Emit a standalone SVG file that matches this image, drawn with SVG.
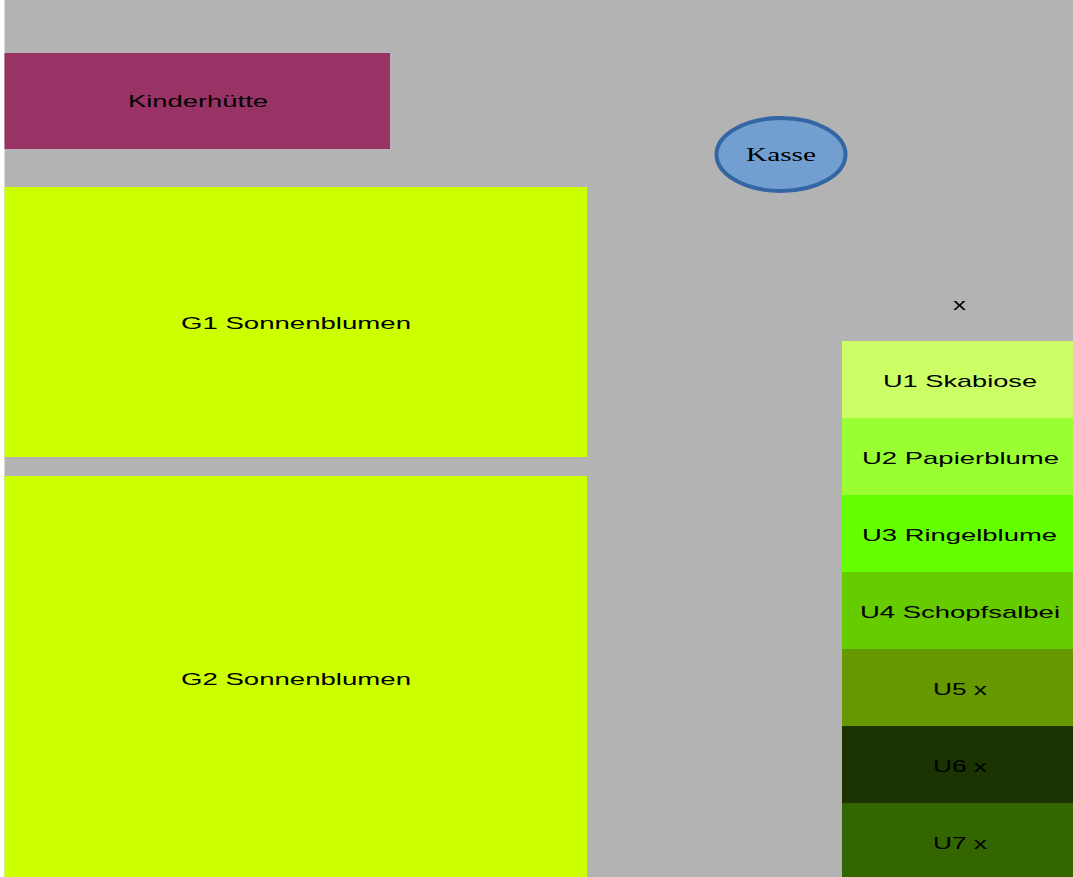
<svg xmlns="http://www.w3.org/2000/svg" width="1073" height="877" viewBox="0 0 1073 877">
<style>
.t{font-family:"Liberation Sans",Arial,sans-serif;font-size:17px;fill:#000}
.s{font-family:"Liberation Serif","Times New Roman",serif;font-size:19px;fill:#000}
</style>
<rect x="0" y="0" width="1073" height="877" fill="#ffffff"/>
<rect id="ground" x="4.5" y="0" width="1068.5" height="877" fill="#b3b3b3"/>
<g id="kinderhuette">
<rect x="4.5" y="53" width="385.5" height="96" fill="#993366"/>
<text class="t" x="128" y="107" textLength="140" lengthAdjust="spacingAndGlyphs">Kinderhütte</text>
</g>
<g id="kasse">
<ellipse cx="781" cy="154.5" rx="64.5" ry="36.5" fill="#729fcf" stroke="#3465a4" stroke-width="4"/>
<text class="s" x="746" y="161" textLength="70" lengthAdjust="spacingAndGlyphs">Kasse</text>
</g>
<g id="g1">
<rect x="4.5" y="187" width="582.5" height="270" fill="#ccff00"/>
<text class="t" x="181" y="329" textLength="230" lengthAdjust="spacingAndGlyphs">G1 Sonnenblumen</text>
</g>
<g id="g2">
<rect x="4.5" y="476" width="582.5" height="401" fill="#ccff00"/>
<text class="t" x="181" y="685" textLength="230" lengthAdjust="spacingAndGlyphs">G2 Sonnenblumen</text>
</g>
<g id="xlabel">
<text class="t" x="953" y="310" textLength="13" lengthAdjust="spacingAndGlyphs">x</text>
</g>
<g id="u1">
<rect x="842" y="341" width="231" height="77" fill="#ccff66"/>
<text class="t" x="883" y="387" textLength="154" lengthAdjust="spacingAndGlyphs">U1 Skabiose</text>
</g>
<g id="u2">
<rect x="842" y="418" width="231" height="77" fill="#99ff33"/>
<text class="t" x="862" y="464" textLength="197" lengthAdjust="spacingAndGlyphs">U2 Papierblume</text>
</g>
<g id="u3">
<rect x="842" y="495" width="231" height="77" fill="#66ff00"/>
<text class="t" x="862" y="541" textLength="195" lengthAdjust="spacingAndGlyphs">U3 Ringelblume</text>
</g>
<g id="u4">
<rect x="842" y="572" width="231" height="77" fill="#66cc00"/>
<text class="t" x="860" y="618" textLength="200" lengthAdjust="spacingAndGlyphs">U4 Schopfsalbei</text>
</g>
<g id="u5">
<rect x="842" y="649" width="231" height="77" fill="#669900"/>
<text class="t" x="933" y="695" textLength="54" lengthAdjust="spacingAndGlyphs">U5 x</text>
</g>
<g id="u6">
<rect x="842" y="726" width="231" height="77" fill="#1a3300"/>
<text class="t" x="933" y="772" textLength="54" lengthAdjust="spacingAndGlyphs">U6 x</text>
</g>
<g id="u7">
<rect x="842" y="803" width="231" height="77" fill="#336600"/>
<text class="t" x="933" y="849" textLength="54" lengthAdjust="spacingAndGlyphs">U7 x</text>
</g>
<g id="connectors"></g>
</svg>
